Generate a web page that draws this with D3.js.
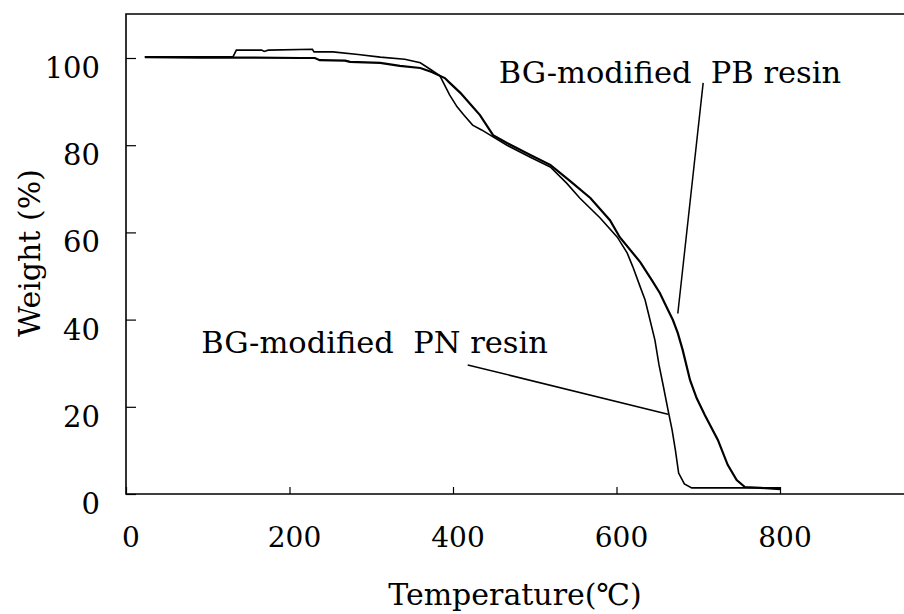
<!DOCTYPE html>
<html><head><meta charset="utf-8">
<script src="https://cdn.jsdelivr.net/npm/d3@7"></script>
<style>
html,body{margin:0;padding:0;background:#fff;}
svg{display:block;}
text{font-family:"DejaVu Serif","Liberation Serif",serif;fill:#000;white-space:pre;}
</style></head>
<body>
<svg id="chart" width="904" height="614"></svg>
<script>
// ---- data ----
const xTicks = [0, 200, 400, 600, 800];
const yTicks = [0, 20, 40, 60, 80, 100];

// BG-modified PN resin : [temperature °C, weight %]
const pnTemp   = [23,131,135,166,169,174,228,230,253,284,311,341,360,374,384,396,405,413,424,435,449,466,494,519,539,555,580,601,613,620,629,635,641,647,652,657,663,668,672,676,683,692,727,800];
const pnWeight = [100.3,100.3,101.8,101.8,101.5,101.8,102.0,101.4,101.4,100.8,100.2,99.7,98.9,97.2,95.9,91.5,88.8,87.0,84.6,83.5,81.9,80.0,77.3,75.0,71.3,67.9,63.3,58.9,55.3,52.1,47.5,44.5,39.9,35.3,29.6,25.0,19.3,14.7,10.1,4.8,2.3,1.4,1.4,1.4];

// BG-modified PB resin
const pbTemp   = [23,91,152,213,231,237,268,274,311,335,360,374,390,396,409,424,433,449,466,494,519,543,568,592,604,629,643,653,663,669,675,681,690,698,708,724,736,747,757,776,800];
const pbWeight = [100.2,100.1,100.1,100.0,100.0,99.5,99.4,99.1,98.9,98.2,97.7,96.8,95.4,94.3,92.0,88.8,86.9,82.3,80.5,77.8,75.5,71.8,67.9,62.8,58.9,53.2,49.1,46.1,42.2,39.9,36.9,33.0,26.1,22.0,18.1,12.4,6.7,3.2,1.6,1.4,1.1];

const seriesNames = ["BG-modified  PB resin", "BG-modified  PN resin"];
// annotation anchors in data units
const pbLabel = {tx: 456, ty: 94.3, lx1: 706, ly1: 94.3, lx2: 675, ly2: 41.4};
const pnLabel = {tx: 92, ty: 32.3, lx1: 418, ly1: 29.6, lx2: 663, ly2: 18.3};

// ---- drawing ----
const svg = d3.select("#chart");
const padL = 126, padT = 14, padB = 494;
const x = d3.scaleLinear().domain([0, 1000]).range([padL, padL + 817.5]);
const y = d3.scaleLinear().domain([0, 100]).range([padB, padB - 436]);

// frame
svg.append("path")
  .attr("d", `M${x(1000)},${padT}H${padL}V${padB}H${x(1000)}`)
  .attr("fill", "none").attr("stroke", "#000").attr("stroke-width", 1.6);

// y ticks (inward)
const yAxis = d3.axisRight(y).tickValues(yTicks).tickSize(10).tickFormat("");
svg.append("g").attr("transform", `translate(${padL},0)`).call(yAxis)
  .call(g => g.select(".domain").remove())
  .call(g => g.selectAll("line").attr("stroke", "#000").attr("stroke-width", 1.2));
// x ticks (inward)
const xAxis = d3.axisTop(x).tickValues(xTicks).tickSize(7).tickFormat("");
svg.append("g").attr("transform", `translate(0,${padB})`).call(xAxis)
  .call(g => g.select(".domain").remove())
  .call(g => g.selectAll("line").attr("stroke", "#000").attr("stroke-width", 1.2));

// tick labels
svg.append("g").selectAll("text").data(yTicks).join("text")
  .attr("x", 100).attr("y", d => y(d) + 20)
  .attr("text-anchor", "end").attr("font-size", 29).text(d => d);
svg.append("g").selectAll("text").data(xTicks).join("text")
  .attr("x", d => x(d) + 5).attr("y", 547)
  .attr("text-anchor", "middle").attr("font-size", 28).text(d => d);

// axis titles
svg.append("text").attr("x", 515).attr("y", 605).attr("text-anchor", "middle")
  .attr("font-size", 30).text("Temperature(℃)");
svg.append("text").attr("transform", "translate(40,253) rotate(-90)")
  .attr("text-anchor", "middle").attr("font-size", 30).text("Weight (%)");

// curves
const line = d3.line().x(d => x(d[0])).y(d => y(d[1]));
const pn = pnTemp.map((t, i) => [t, pnWeight[i]]);
const pb = pbTemp.map((t, i) => [t, pbWeight[i]]);
svg.append("path").datum(pn).attr("d", line)
  .attr("fill", "none").attr("stroke", "#000").attr("stroke-width", 1.6);
svg.append("path").datum(pb).attr("d", line)
  .attr("fill", "none").attr("stroke", "#000").attr("stroke-width", 2.2);

// annotations
[[pbLabel, seriesNames[0]], [pnLabel, seriesNames[1]]].forEach(([a, name]) => {
  svg.append("text").attr("x", x(a.tx)).attr("y", y(a.ty)).attr("font-size", 30.5).text(name);
  svg.append("line")
    .attr("x1", x(a.lx1)).attr("y1", y(a.ly1)).attr("x2", x(a.lx2)).attr("y2", y(a.ly2))
    .attr("stroke", "#000").attr("stroke-width", 1.5);
});
</script>
</body></html>
